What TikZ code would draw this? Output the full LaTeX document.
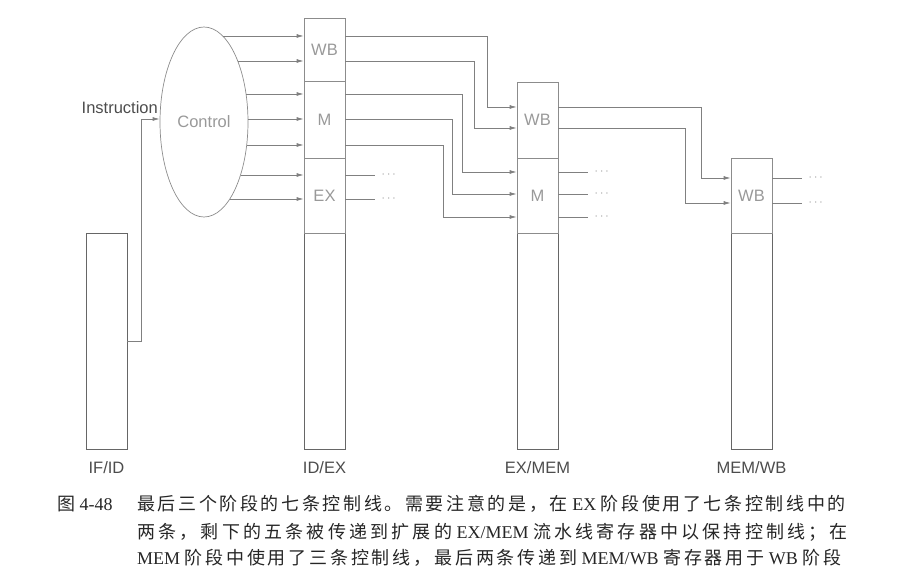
\documentclass[tikz,border=0pt]{standalone}
\usepackage{fontspec}
\setmainfont{Liberation Serif}
\setsansfont{Liberation Sans}
\newfontfamily\cjk{Noto Sans CJK SC}
\newcommand\zh[2]{{\cjk\addfontfeature{LetterSpace=#1}#2}}
\usetikzlibrary{arrows.meta,shapes.geometric,positioning}

\tikzset{
  sig/.style={draw=black!50, line width=0.7pt, -{Latex[length=7pt,width=4pt]}},
  wire/.style={draw=black!50, line width=0.7pt},
  field/.style={draw=black!45, line width=0.7pt, minimum width=41pt, inner sep=0pt,
    text=black!40, font=\sffamily\fontsize{16.5}{18}\selectfont},
  regbox/.style={draw=black!60, line width=0.8pt, minimum width=41pt, minimum height=216pt, inner sep=0pt},
  dots/.style={text=black!40, inner sep=0pt, font=\fontsize{12}{12}\selectfont},
  lbl/.style={text=black!70, inner sep=0pt, font=\sffamily\fontsize{16.5}{18}\selectfont},
  capline/.style={anchor=base west, inner sep=0pt, text=black!85, font=\fontsize{18}{26}\selectfont},
}

\begin{document}
\begin{tikzpicture}[x=1pt,y=-1pt]
  \useasboundingbox (0,0) rectangle (898,577);

  % pipeline registers
  \node[regbox] (ifid) at (106.5,341) {};
  \node[regbox] (idex) at (324.5,341) {};
  \node[regbox] (exmem) at (537.5,341) {};
  \node[regbox] (memwb) at (751.5,341) {};

  \node[lbl, anchor=base] (ifidname) at (ifid.south |- 0,474) {IF/ID};
  \node[lbl, anchor=base] (idexname) at (idex.south |- 0,474) {ID/EX};
  \node[lbl, anchor=base] (exmemname) at (exmem.south |- 0,474) {EX/MEM};
  \node[lbl, anchor=base] (memwbname) at (memwb.south |- 0,474) {MEM/WB};

  % control fields
  \node[field, minimum height=63pt] (wbA) at (324.5,49.5) {WB};
  \node[field, minimum height=77pt] (mA) at (324.5,119.5) {M};
  \node[field, minimum height=75pt] (exA) at (324.5,195.5) {EX};
  \node[field, minimum height=76pt] (wbB) at (537.5,120) {WB};
  \node[field, minimum height=75pt] (mB) at (537.5,195.5) {M};
  \node[field, minimum height=75pt] (wbC) at (751.5,195.5) {WB};

  % control unit
  \node[ellipse, draw=black!45, line width=0.7pt, minimum width=88pt, minimum height=190pt,
    inner sep=0pt, text=black!40, font=\sffamily\fontsize{16.5}{18}\selectfont] (ctrl) at (204,122) {Control};
  \node[lbl, anchor=base east] (instr) at (158,114) {Instruction};
  \draw[sig] (ifid.east) -- (141,341) |- ([yshift=3pt]ctrl.west);

  % seven control lines
  \foreach \y [count=\i] in {36,61,94,119,145,175,199} {
    \pgfmathsetmacro\xs{204+44*sqrt(1-((\y-122)/95)^2)}
    \coordinate (c\i) at (\xs,\y);
    \draw[sig] (c\i) -- (wbA.west |- c\i);
  }

  % ID/EX -> EX/MEM
  \foreach \y/\x/\z in {36/487/107, 61/474/128, 94/462/172, 119/452/194, 145/443/217}
    \draw[sig] (wbA.east |- 0,\y) -| (\x,\z) -- (wbB.west |- 0,\z);
  \foreach \y in {175,199}
    \draw[wire] (exA.east |- 0,\y) -- ++(30,0) node[dots, right=6pt] {$\cdots$};

  % EX/MEM -> MEM/WB
  \draw[sig] (wbB.east |- 0,107) -| (701,178) -- (wbC.west |- 0,178);
  \draw[sig] (wbB.east |- 0,128) -| (685,203) -- (wbC.west |- 0,203);
  \foreach \y in {172,194,217}
    \draw[wire] (mB.east |- 0,\y) -- ++(30,0) node[dots, right=6pt] {$\cdots$};
  \foreach \y in {178,203}
    \draw[wire] (wbC.east |- 0,\y) -- ++(30,0) node[dots, right=6pt] {$\cdots$};

  % caption
  \node[capline] (fignum) at (57,511) {\zh{0}{图} 4-48};
  \node[capline] (capA) at (137,511)
    {\zh{14.6}{最后三个阶段的七条控制线。需要注意的是，在} EX \zh{14.6}{阶段使用了七条控制线中的}};
  \node[capline] (capB) at (137,538)
    {\zh{17.8}{两条，剩下的五条被传递到扩展的} EX/MEM \zh{17.8}{流水线寄存器中以保持控制线；在}};
  \node[capline] (capC) at (137,564)
    {MEM \zh{15.6}{阶段中使用了三条控制线，最后两条传递到} MEM/WB \zh{15.6}{寄存器用于} WB \zh{15.6}{阶段}};
\end{tikzpicture}
\end{document}
